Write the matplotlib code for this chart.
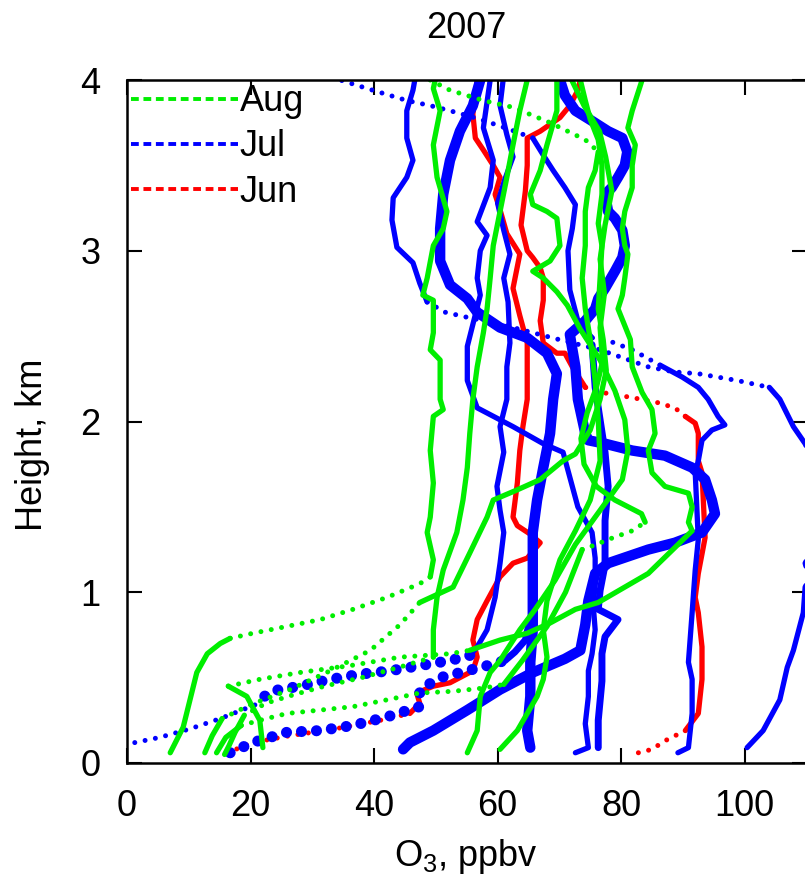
import numpy as np
import matplotlib
matplotlib.use('Agg')
import matplotlib.pyplot as plt
from matplotlib.lines import Line2D

plt.rcParams['font.family'] = ['Liberation Sans', 'DejaVu Sans']
plt.rcParams['mathtext.fontset'] = 'custom'
plt.rcParams['mathtext.rm'] = 'Liberation Sans'

# ozone profiles, (O3 ppbv, height km)
# each sounding is split where the sampling gets sparse (fast ascent)

# --- June
jun_1_low = [(16.2, 0.06), (20.4, 0.12), (26.4, 0.16), (33.7, 0.20), (41.0, 0.25), (45.8, 0.29)]
jun_1 = [(45.8, 0.29), (47.4, 0.35), (46.9, 0.41), (49.6, 0.45), (52.3, 0.47), (56.0, 0.54), (56.7, 0.62),
         (56.0, 0.72), (56.7, 0.84), (58.3, 0.95), (60.4, 1.09), (62.5, 1.17), (64.8, 1.20), (66.9, 1.29),
         (65.3, 1.34), (63.2, 1.39), (62.5, 1.44), (63.2, 1.64), (63.6, 1.83), (64.1, 1.97), (64.8, 2.13),
         (64.8, 2.32), (64.8, 2.46), (63.6, 2.62), (62.5, 2.78), (63.6, 2.98), (61.5, 3.10), (60.4, 3.24),
         (59.6, 3.33), (60.4, 3.43), (59.3, 3.50), (57.7, 3.59), (56.4, 3.66), (56.0, 3.80), (56.7, 4.0)]
jun_2_low = [(82.8, 0.06), (85.0, 0.08), (87.1, 0.13), (90.4, 0.19)]
jun_2 = [(90.4, 0.19), (92.5, 0.29), (93.1, 0.49), (93.1, 0.68), (92.5, 0.88), (92.0, 0.97), (92.5, 1.11),
         (93.6, 1.32), (93.1, 1.70), (92.5, 1.77), (92.5, 1.93), (92.0, 1.99), (90.4, 2.03)]
jun_2_mid = [(90.4, 2.03), (88.7, 2.08), (86.0, 2.11), (81.8, 2.14), (76.9, 2.17), (74.2, 2.20)]
jun_2_up = [(74.2, 2.20), (72.1, 2.32), (70.9, 2.40), (69.6, 2.40), (67.4, 2.46), (66.9, 2.59), (67.4, 2.71),
            (67.4, 2.84), (66.9, 2.90), (65.7, 2.96), (64.8, 3.0), (63.8, 3.15), (64.5, 3.35), (64.8, 3.5),
            (64.8, 3.66), (66.9, 3.70), (68.5, 3.74), (70.1, 3.78), (71.7, 3.85), (73.0, 3.94), (73.4, 4.0)]

# --- July
jul_1_up = [(46.6, 4.0), (46.3, 3.94), (45.3, 3.82), (45.3, 3.66), (46.3, 3.53), (45.3, 3.43), (43.1, 3.31),
            (42.9, 3.18), (43.7, 3.02), (46.3, 2.93), (47.4, 2.81), (48.6, 2.70)]
jul_1_sweep = [(48.6, 2.70), (51.5, 2.64), (55.1, 2.61), (60.4, 2.57), (65.7, 2.52), (71.0, 2.47), (76.6, 2.42),
               (84.4, 2.32), (88.7, 2.29), (92.5, 2.28), (98.8, 2.24), (104.0, 2.20)]
jul_1_low = [(104.0, 2.20), (105.7, 2.13), (107.9, 1.97), (109.8, 1.87), (112.0, 1.70), (113.0, 1.40),
             (109.8, 1.17), (110.5, 1.08), (109.8, 1.03), (109.5, 0.88), (107.9, 0.66), (106.9, 0.56),
             (105.7, 0.37), (103.0, 0.19), (100.4, 0.09)]
jul_2_low = [(89.2, 0.06), (90.9, 0.09), (91.5, 0.29), (91.5, 0.49), (90.9, 0.59), (91.5, 0.88), (92.0, 1.13),
             (92.5, 1.31), (92.0, 1.70), (92.5, 1.77), (93.1, 1.89), (94.7, 1.95), (96.8, 1.98), (95.7, 2.03),
             (94.1, 2.13), (92.5, 2.20), (89.9, 2.26), (86.3, 2.33)]
jul_2_mid = [(86.3, 2.33), (81.8, 2.42), (78.2, 2.47), (75.3, 2.49)]
jul_2_up = [(75.3, 2.49), (73.0, 2.59), (71.7, 2.77), (71.4, 3.0), (72.1, 3.13), (72.6, 3.27), (70.9, 3.37),
            (69.0, 3.47), (67.4, 3.56), (65.7, 3.66)]
jul_2_top = [(65.7, 3.66), (62.0, 3.71), (57.2, 3.77), (52.3, 3.82), (49.1, 3.85), (45.3, 3.88), (39.8, 3.94),
             (34.5, 4.0)]
jul_3 = [(57.2, 4.0), (56.0, 3.85), (53.9, 3.70), (52.3, 3.53), (51.2, 3.33), (50.7, 3.13), (50.7, 2.94),
         (52.3, 2.80), (55.1, 2.72), (56.7, 2.64), (60.4, 2.55), (64.8, 2.49), (68.0, 2.40), (69.6, 2.28),
         (69.0, 2.13), (68.5, 1.93), (67.4, 1.73), (66.4, 1.54), (65.7, 1.35), (65.7, 1.17), (65.7, 0.97),
         (65.7, 0.78), (65.3, 0.59), (65.3, 0.39), (64.8, 0.19), (65.3, 0.09)]
jul_4 = [(76.3, 0.09), (76.3, 0.25), (76.9, 0.48), (76.9, 0.64), (77.4, 0.74), (79.5, 0.84), (76.3, 0.90),
         (76.6, 1.01), (77.4, 1.16), (77.4, 1.42), (77.9, 1.62), (77.4, 1.82), (76.6, 2.01), (75.8, 2.2),
         (75.3, 2.45)]
jul_5 = [(70.1, 4.0), (70.9, 3.91), (72.6, 3.82), (75.3, 3.76), (77.9, 3.70), (80.2, 3.66), (81.0, 3.58),
         (80.6, 3.50), (79.5, 3.43), (78.5, 3.37), (77.4, 3.33), (77.9, 3.23), (79.0, 3.19), (80.2, 3.12),
         (80.6, 3.03), (80.2, 2.96), (79.0, 2.88), (77.4, 2.78), (76.3, 2.72), (75.8, 2.66), (74.2, 2.59),
         (71.7, 2.51), (72.6, 2.32), (73.0, 2.13), (74.2, 1.93), (74.7, 1.89), (77.4, 1.87), (81.8, 1.83),
         (87.1, 1.80), (91.5, 1.73), (93.6, 1.66), (94.7, 1.54), (95.2, 1.46), (93.1, 1.35), (88.7, 1.29),
         (84.4, 1.25), (77.9, 1.17), (75.8, 1.11), (74.7, 0.95), (74.2, 0.81), (73.4, 0.66), (70.9, 0.61),
         (65.7, 0.53), (60.4, 0.43), (55.1, 0.31), (49.6, 0.19), (45.8, 0.12), (44.7, 0.08)]
jul_6 = [(58.8, 4.0), (57.7, 3.72), (59.3, 3.53), (58.8, 3.37), (56.7, 3.17), (58.3, 3.09), (57.2, 3.0),
         (56.7, 2.84), (57.2, 2.74), (55.1, 2.44), (55.1, 2.24), (56.7, 2.08), (62.5, 1.97), (67.4, 1.87),
         (70.6, 1.82), (72.1, 1.62), (73.0, 1.50), (75.3, 1.35), (75.8, 1.2), (75.8, 1.05), (75.5, 0.92),
         (75.8, 0.78), (75.3, 0.64), (74.7, 0.54), (74.7, 0.39), (74.2, 0.23), (74.7, 0.09), (72.6, 0.06)]
jul_7_row = [(16.7, 0.06), (20.4, 0.12), (25.9, 0.18), (31.3, 0.19), (36.6, 0.22), (42.1, 0.27), (44.7, 0.30),
             (47.4, 0.33), (47.4, 0.43), (50.7, 0.50), (55.1, 0.54), (58.3, 0.57), (61.2, 0.60)]
jul_7 = [(61.2, 0.60), (62.8, 0.65), (64.5, 0.72), (65.0, 0.80)]
jul_8 = [(60.9, 4.0), (60.4, 3.85), (61.5, 3.68), (62.5, 3.55), (61.2, 3.42), (60.0, 3.28), (61.0, 3.12),
         (62.0, 2.98), (61.0, 2.84), (61.7, 2.70), (62.0, 2.46), (61.5, 2.32), (61.5, 2.13), (60.4, 1.97),
         (61.0, 1.82), (59.9, 1.62), (60.4, 1.48), (61.0, 1.35), (60.4, 1.17), (59.6, 0.97), (58.3, 0.78),
         (56.7, 0.68), (55.5, 0.63)]
jul_8_row = [(55.5, 0.63), (52.3, 0.60), (47.4, 0.57), (42.6, 0.54), (37.7, 0.52), (32.9, 0.49), (28.0, 0.45),
             (23.2, 0.42), (20.7, 0.34)]
jul_8_tail = [(20.7, 0.34), (15.1, 0.26), (10.2, 0.20), (5.3, 0.15), (0.0, 0.11)]

# --- August
aug_1_low = [(7.0, 0.06), (9.1, 0.21), (11.3, 0.53), (13.0, 0.64), (15.1, 0.70), (16.7, 0.73)]
aug_1_row = [(16.7, 0.73), (20.4, 0.76), (25.9, 0.80), (31.3, 0.84), (36.6, 0.90), (42.1, 0.97), (47.4, 1.05),
             (49.1, 1.09)]
aug_1 = [(49.1, 1.09), (49.6, 1.19), (48.6, 1.35), (49.1, 1.44), (49.6, 1.64), (49.1, 1.83), (49.6, 2.03),
         (51.2, 2.07), (50.7, 2.13), (50.7, 2.36), (49.1, 2.42), (49.6, 2.52), (49.6, 2.71), (47.9, 2.74),
         (48.6, 2.84), (49.6, 3.03), (51.2, 3.13), (51.8, 3.23), (50.2, 3.43), (49.6, 3.62), (50.7, 3.82),
         (49.6, 3.95), (49.9, 4.0)]
aug_2_low = [(22.0, 0.09), (21.5, 0.25), (19.4, 0.39), (16.4, 0.45)]
aug_2_row = [(16.4, 0.45), (21.5, 0.49), (28.0, 0.53), (36.1, 0.57), (44.2, 0.62), (52.3, 0.64), (55.5, 0.66)]
aug_2 = [(55.5, 0.66), (60.4, 0.72), (64.8, 0.76), (68.5, 0.82), (72.6, 0.90), (76.3, 0.94), (84.4, 1.11),
         (91.5, 1.36), (90.9, 1.41), (91.5, 1.50), (90.9, 1.58), (87.1, 1.62), (85.0, 1.70), (84.4, 1.83),
         (85.5, 1.93), (85.0, 2.07), (83.4, 2.17), (81.8, 2.32), (81.5, 2.48), (79.5, 2.66), (80.2, 2.74),
         (80.6, 2.84), (81.1, 2.98), (80.6, 3.03), (80.2, 3.13), (80.6, 3.23), (81.8, 3.37), (81.8, 3.50),
         (82.3, 3.62), (81.1, 3.72), (81.8, 3.82), (83.4, 4.0)]
aug_3_low = [(14.5, 0.06), (16.0, 0.15), (18.5, 0.22)]
aug_3_row = [(18.5, 0.22), (21.5, 0.25), (25.9, 0.29), (31.3, 0.31), (36.6, 0.33), (42.1, 0.37), (47.4, 0.41),
             (52.8, 0.42), (58.0, 0.44), (61.0, 0.46)]
aug_3_mid = [(61.0, 0.46), (64.0, 0.60), (68.0, 0.80), (71.0, 1.00), (73.7, 1.25)]
aug_3_nose = [(73.7, 1.25), (76.0, 1.28), (78.0, 1.31), (81.8, 1.36), (83.9, 1.41)]
aug_3 = [(83.9, 1.41), (83.3, 1.46), (79.0, 1.54), (76.0, 1.62), (74.0, 1.75), (73.5, 1.90), (74.5, 2.05),
         (76.0, 2.20), (77.0, 2.35), (76.6, 2.55), (77.3, 2.75), (76.6, 2.95), (77.4, 3.15), (78.5, 3.35),
         (77.5, 3.55), (76.5, 3.70), (74.0, 3.85), (72.0, 4.0)]
aug_4 = [(64.8, 4.0), (63.6, 3.82), (62.5, 3.62), (61.5, 3.43), (60.4, 3.23), (59.3, 3.03), (58.8, 2.84),
         (58.3, 2.66), (57.7, 2.52), (56.7, 2.32), (56.0, 2.13), (55.5, 1.93), (55.1, 1.73), (54.4, 1.54),
         (53.4, 1.35), (51.2, 1.13), (50.2, 0.97), (49.6, 0.78), (49.6, 0.62)]
aug_4_row = [(49.6, 0.62), (44.0, 0.56), (38.0, 0.50), (32.0, 0.45), (27.0, 0.40), (22.5, 0.35), (19.0, 0.28)]
aug_4_low = [(19.0, 0.28), (17.5, 0.18), (16.5, 0.10), (15.8, 0.05)]
aug_5_top = [(49.1, 4.0), (52.3, 3.94), (57.7, 3.88), (62.5, 3.84), (68.5, 3.75), (74.2, 3.65), (76.3, 3.58)]
aug_5 = [(76.3, 3.58), (75.8, 3.47), (74.7, 3.37), (74.2, 3.23), (74.2, 3.03), (73.7, 2.84), (74.2, 2.66),
         (75.0, 2.48), (75.8, 2.24), (76.3, 2.01), (76.6, 1.77), (75.0, 1.54), (72.6, 1.36), (70.1, 1.19),
         (68.0, 0.95), (67.4, 0.78), (68.0, 0.62), (67.4, 0.49), (66.4, 0.39), (64.8, 0.29), (63.2, 0.19),
         (60.4, 0.08)]
aug_6 = [(69.6, 4.0), (69.6, 3.82), (68.0, 3.62), (66.9, 3.47), (65.3, 3.33), (65.7, 3.27), (68.0, 3.23),
         (69.6, 3.19), (70.1, 3.03), (68.5, 2.94), (65.7, 2.88), (67.4, 2.84), (69.6, 2.76), (71.3, 2.68),
         (73.4, 2.54), (76.6, 2.36), (79.0, 2.18), (80.6, 2.01), (81.1, 1.83), (80.2, 1.66), (76.6, 1.48),
         (72.6, 1.28), (69.3, 1.07), (66.1, 0.90), (63.6, 0.78), (60.4, 0.60), (58.8, 0.53), (57.2, 0.39),
         (56.7, 0.19), (55.1, 0.06)]
aug_7_low = [(12.6, 0.06), (13.8, 0.16), (15.4, 0.26)]
aug_7_row = [(15.4, 0.26), (19.9, 0.34), (26.4, 0.43), (32.9, 0.54), (39.4, 0.66), (44.2, 0.81), (47.4, 0.94)]
aug_7 = [(47.4, 0.94), (52.8, 1.03), (55.5, 1.23), (58.3, 1.44), (59.3, 1.54), (63.2, 1.60), (66.9, 1.66),
         (70.6, 1.77), (72.6, 1.81), (75.0, 1.95), (76.6, 2.13), (77.6, 2.30), (77.1, 2.48), (76.3, 2.66),
         (76.6, 2.84), (76.9, 3.03), (76.3, 3.16), (76.9, 3.33), (76.9, 3.50), (76.3, 3.65), (75.0, 3.77),
         (74.2, 3.88), (73.4, 4.0)]

months = ['Aug', 'Jul', 'Jun']
colors = {'Jun': '#ff0000', 'Jul': '#0000ff', 'Aug': '#00ee00'}

# how each piece is drawn
styles = {
    'line':    dict(lw=3.8, ls='-'),
    'medium':  dict(lw=5.0, ls='-'),
    'thick':   dict(lw=7.5, ls='-'),
    'dots':    dict(lw=3.6, ls=(0, (0.001, 2.1))),
    'bigdots': dict(lw=8.0, ls=(0, (0.001, 1.35))),
}

# drawing order: June under July under August
pieces = [
    ('Jun', jun_1_low, 'dots'), ('Jun', jun_1, 'line'),
    ('Jun', jun_2_low, 'dots'), ('Jun', jun_2, 'line'), ('Jun', jun_2_mid, 'dots'), ('Jun', jun_2_up, 'line'),
    ('Jul', jul_1_up, 'line'), ('Jul', jul_1_sweep, 'dots'), ('Jul', jul_1_low, 'line'),
    ('Jul', jul_2_low, 'line'), ('Jul', jul_2_mid, 'dots'), ('Jul', jul_2_up, 'line'), ('Jul', jul_2_top, 'dots'),
    ('Jul', jul_3, 'thick'), ('Jul', jul_4, 'medium'), ('Jul', jul_5, 'thick'), ('Jul', jul_6, 'line'),
    ('Jul', jul_7_row, 'bigdots'), ('Jul', jul_7, 'medium'),
    ('Jul', jul_8, 'line'), ('Jul', jul_8_row, 'bigdots'), ('Jul', jul_8_tail, 'dots'),
    ('Aug', aug_1_low, 'line'), ('Aug', aug_1_row, 'dots'), ('Aug', aug_1, 'line'),
    ('Aug', aug_2_low, 'line'), ('Aug', aug_2_row, 'dots'), ('Aug', aug_2, 'line'),
    ('Aug', aug_3_low, 'line'), ('Aug', aug_3_row, 'dots'), ('Aug', aug_3_mid, 'line'),
    ('Aug', aug_3_nose, 'dots'), ('Aug', aug_3, 'line'),
    ('Aug', aug_4, 'line'), ('Aug', aug_4_row, 'dots'), ('Aug', aug_4_low, 'line'),
    ('Aug', aug_5_top, 'dots'), ('Aug', aug_5, 'line'), ('Aug', aug_6, 'line'),
    ('Aug', aug_7_low, 'line'), ('Aug', aug_7_row, 'dots'), ('Aug', aug_7, 'line'),
]

fig = plt.figure(figsize=(8.05, 8.89), dpi=100)
ax = fig.add_axes([127/805, 1 - 763/889, 680/805, 683/889])

for month, prof, kind in pieces:
    p = np.array(prof)
    ax.plot(p[:, 0], p[:, 1], color=colors[month], solid_capstyle='round', solid_joinstyle='round',
            dash_capstyle='round', **styles[kind])

ax.set_xlim(0, 110.1)
ax.set_ylim(0, 4)
ax.set_xticks([0, 20, 40, 60, 80, 100])
ax.set_yticks([0, 1, 2, 3, 4])
ax.tick_params(direction='in', length=11, width=1.5, top=True, right=True, labelsize=26, pad=19)
for s in ax.spines.values():
    s.set_linewidth(1.8)

handles = [Line2D([], [], color=colors[m], lw=2.8, ls=(0, (2.0, 1.2))) for m in months]
ax.legend(handles, months, loc='upper left', frameon=False, fontsize=26, borderaxespad=0.12, borderpad=0,
          handlelength=2.95, handletextpad=0.05, labelspacing=0.28)

fig.text(466/805, 1 - 29/889, '2007', ha='center', va='center', fontsize=26)
fig.text(32/805, 1 - 445/889, 'Height, km', ha='center', va='center', rotation=90, fontsize=26)
fig.text(466/805, 1 - 857/889, r'O$_\mathregular{3}$, ppbv', ha='center', va='center', fontsize=26)

fig.savefig('out.png', dpi=100)
